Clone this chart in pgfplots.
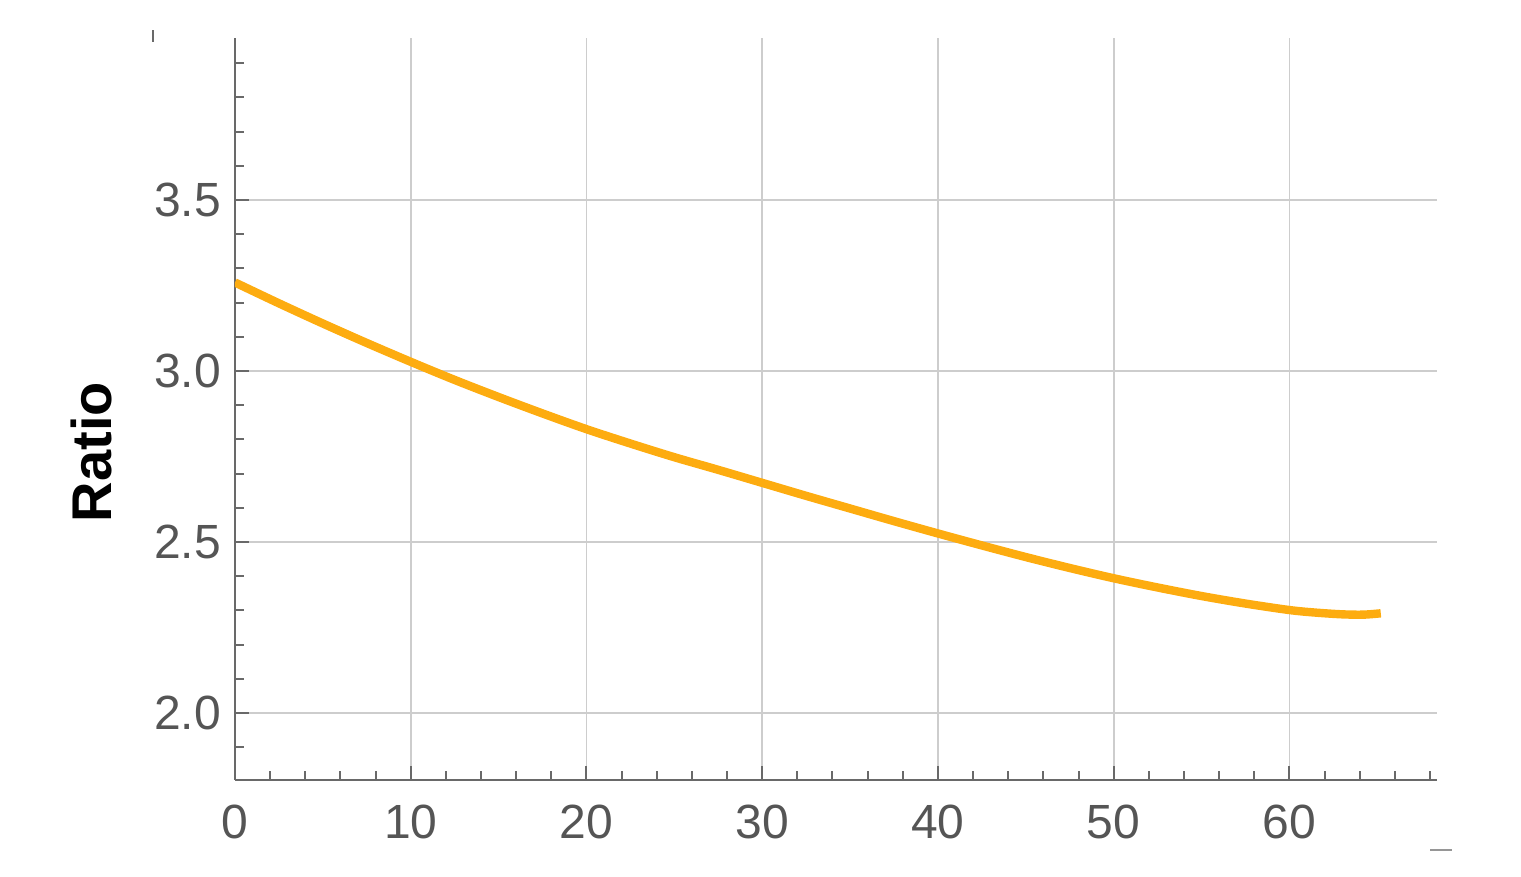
\documentclass[border=0pt]{standalone}
\usepackage{pgfplots}
\pgfplotsset{compat=1.18}
\usepackage{fontspec}
\setmainfont{Liberation Sans}
\definecolor{curve}{RGB}{253,172,16}
\definecolor{axgray}{RGB}{105,105,105}
\definecolor{gridgray}{RGB}{205,205,205}
\definecolor{labgray}{RGB}{85,85,85}
\begin{document}
\begin{tikzpicture}
\begin{axis}[
  scale only axis,
  width=300.5pt, height=185.5pt,
  xmin=0, xmax=68.4, ymin=1.804, ymax=3.974,
  axis x line*=bottom, axis y line*=left,
  axis line style={-, axgray, line width=0.5pt},
  xtick={0,10,20,30,40,50,60},
  ytick={2.0,2.5,3.0,3.5},
  minor xtick={0,2,4,6,8,10,12,14,16,18,20,22,24,26,28,30,32,34,36,38,40,42,44,46,48,50,52,54,56,58,60,62,64,66,68},
  minor ytick={1.9,2.1,2.2,2.3,2.4,2.6,2.7,2.8,2.9,3.1,3.2,3.3,3.4,3.6,3.7,3.8,3.9},
  tick align=inside,
  major tick length=3.5pt, minor tick length=2.2pt,
  tick style={axgray, line width=0.5pt},
  grid=major,
  major grid style={gridgray, line width=0.45pt},
  minor grid style={draw=none},
  yticklabel style={/pgf/number format/fixed, /pgf/number format/fixed zerofill, /pgf/number format/precision=1},
  /pgf/number format/assume math mode=true,
  ticklabel style={font=\fontsize{12}{14}\selectfont, text=labgray},
  xticklabel style={yshift=-2.6pt},
  ylabel={\textbf{Ratio}},
  ylabel style={at={(axis description cs:-0.1198,0.442)}, anchor=center, font=\fontsize{14}{16}\selectfont, text=black},
]
\addplot[curve, line width=2.1pt, smooth] coordinates {
(0,3.259) (2.5,3.198) (5,3.139) (7.5,3.082) (10,3.027) (12.5,2.974) (15,2.924) (17.5,2.876)
(20,2.830) (22.5,2.788) (25,2.748) (27.5,2.711) (30,2.673) (32.5,2.635) (35,2.598) (37.5,2.561)
(40,2.525) (42.5,2.490) (45,2.456) (47.5,2.424) (50,2.394) (52.5,2.367) (55,2.342) (57.5,2.320)
(60,2.301) (61.5,2.2935) (63,2.2885) (64.2,2.2875) (65.2,2.2915)
};
\end{axis}
\draw[axgray, line width=0.4pt] ([shift={(-20.5pt,184.5pt)}]current axis.south west) -- ++(0,3pt);
\draw[axgray!70, line width=0.4pt] ([shift={(298.75pt,-17.5pt)}]current axis.south west) -- ++(5.5pt,0);
\path ([shift={(-58.75pt,-24.25pt)}]current axis.south west) rectangle ([shift={(321.5pt,195pt)}]current axis.south west);
\end{tikzpicture}
\end{document}
